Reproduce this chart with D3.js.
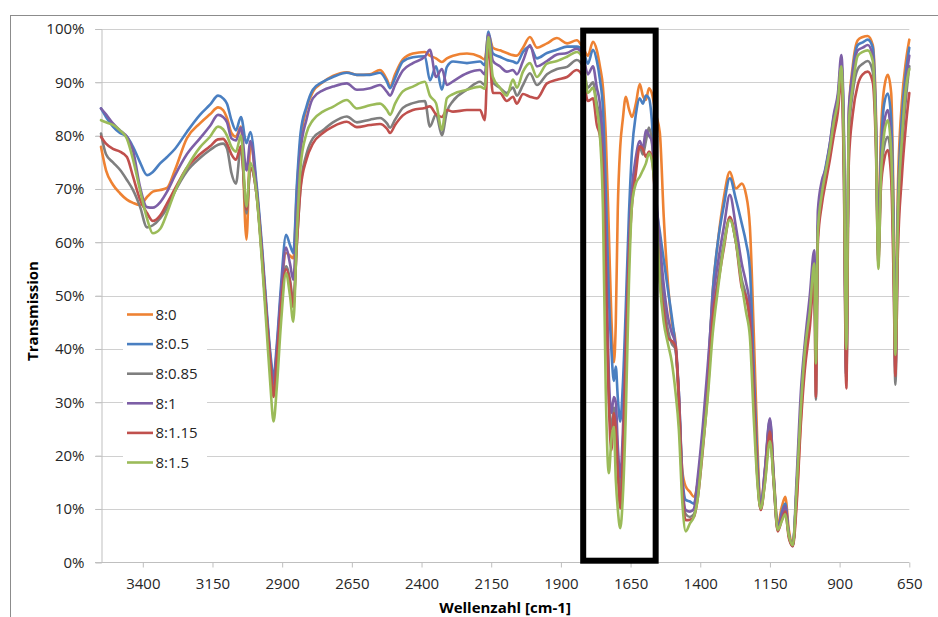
<!DOCTYPE html>
<html>
<head>
<meta charset="utf-8">
<script src="https://cdn.jsdelivr.net/npm/d3@7"></script>
<style>
  html, body { margin: 0; padding: 0; background: #fff; }
  svg { display: block; }
</style>
</head>
<body>
<svg id="chart" width="938" height="617"></svg>
<script>
// ---------------- DATA ----------------
const wavenumbers = [3550,3532,3507,3482,3457,3435,3410,3385,3364,3338,3313,3285,3242,3195,3159,3130,3112,3098,3082,3066,
3048,3028,3014,2992,2972,2955,2942,2931,2919,2904,2886,2872,2860,2847,2834,2813,2790,2754,2718,2668,
2632,2585,2549,2524,2513,2495,2467,2431,2388,2370,2348,2327,2309,2287,2237,2190,2173,2160,2144,2119,
2094,2072,2058,2036,2011,1986,1950,1914,1878,1843,1821,1803,1785,1771,1760,1749,1739,1728,1719,1710,
1703,1696,1687,1678,1667,1656,1645,1631,1617,1606,1595,1584,1574,1559,1545,1531,1516,1502,1489,1477,
1464,1452,1437,1423,1409,1391,1373,1355,1337,1315,1294,1272,1251,1236,1222,1208,1195,1183,1168,1150,
1136,1122,1107,1095,1082,1068,1054,1039,1025,1007,991,985,978,964,949,935,921,906,894,885,
876,867,853,835,817,799,781,770,761,752,740,727,715,706,700,691,677,662,650];

const s8_0 = [77.9,73.5,70.8,69.2,68,67.4,67,68.5,69.5,69.8,70.2,73.5,79.5,82.3,84,85.3,84.8,83.3,80.5,79.8,
81.7,60.5,78.6,70,58,46,38,32.5,39,50,58,57.5,57,70,79,85,88.2,90,91.2,91.9,
91.4,91.5,92.3,90.5,89.2,91.5,94.3,95.4,95.7,95,94.5,93.8,94.5,95,95.4,94.8,94.3,99,96.5,96,
95.5,95.1,95,96.5,98.5,96.5,97.3,98.3,97.3,97.9,96.5,95,97.6,96,93,89,80,62,46,37.5,
45,66,78,83,87.3,85,83.5,86,89.7,87.5,86.7,88.9,88,84,80.5,64.8,52.3,45,41.4,30,
17,14.2,13.2,12.3,15,23.5,33.6,51,60,68.5,73.2,70.1,71,69,63,43,22,10.4,17.3,26,
16,7,10.5,12.3,6,3.5,12,27,38,46,55,42,62,69,74,78,83,87,93,80,
36,84,93,97.9,98.5,98.7,97,85,60,80,89,91.4,88,65,40,70,86,94,98];

const s8_05 = [85.1,83.5,81.7,80.5,79.8,77.9,75,72.6,73.2,74.8,76,77.5,80.7,83.9,85.8,87.5,87,86,82.9,81,
83.5,78.6,80.7,71,59,47,39,34.8,41,52,61.4,59.5,58,71,80.5,85.4,88.6,90.1,91,91.8,
91.4,91.4,91.8,90.1,88.9,90.8,93.9,94.7,94.9,90.4,93,88.6,92.9,93.9,93.6,93.9,93.2,99.5,95.4,94.8,
94.2,93.9,93.6,95.7,96.7,94.5,95.5,96.1,96.7,96.7,96,93.5,96.1,94,90.5,85,70,50,40,34,
36.7,31,26.4,33,48,65,77,84,87,86,87.5,87,83,67.5,62,56.7,51.1,46,40.4,32,
16,11.7,11.4,11,15,24,35,51,60,67,72,68,63.5,60,55,36,19,10.2,17,26.7,
15.5,6.5,9.5,11,5.2,3.2,14,29,39.8,47,56,40,63,70,74.5,78.5,83.5,87,93.5,80,
35,83,92,97,97.5,98,96.5,83,58,76,86,87.9,83,62,38,66,83,92,96.5];

const s8_085 = [80.4,76.5,75,73.6,71.7,69.8,66.7,62.8,63.2,64.5,66.4,69.5,73.3,75.8,77.3,78.3,78.5,77.6,73,71,
78,65.4,74,69,57,45,37,31.5,38,48,55.5,53,49,60,70.5,76.5,79.5,81,82.5,83.6,
82.5,83,83.3,82.3,81.5,83,85.2,86.1,86.5,81.7,84,80.1,84.5,86.5,88.6,90.1,89.5,98,90,89,
88,89,87.5,89.5,91.7,89.5,91.5,92.5,92.9,94.2,93,89,90,86,83,76,56,31,25,29,
27,20,13,21,40,58,69,75,78,76.5,79,81.5,79,68,56,49,43.5,41,40,31,
14,9,8.5,9,13,22,33,46,53,60,64.5,60,53,50,45,31,16,10,15.5,25,
14.5,6,8.5,10,5,3.1,14,29,39,47,56,30.5,62,69,73,77,82,86,92.5,75,
34,80,88,92.5,93.5,94,92,80,57,72,78,79.8,75,55,33.3,60,77,87,93];

const s8_1 = [85.1,84,82.3,81,79.8,77.2,70.4,66.6,66.5,67.5,69.5,72.5,76.5,79.5,81.8,83.9,83.5,82.5,79.5,79.1,
81.5,73.5,79,70,58,46,38,33.5,40,50.5,59,56,53,66,77,83,87,88.5,89.2,89.8,
88.6,88.9,89.5,88.2,87.5,89.5,92.2,93.6,94.8,96.1,91,92.5,89.5,90.2,91.7,92.3,91.5,99,94,93,
92,92.3,91.5,94,97,93,94,95.2,95.5,96.3,95,91.5,93,89,86,78,60,35,28,31,
30,22,16,24,42,60,70,76,79,77.5,81,80,79,69,60,52,46,43,41,32,
15,9.8,9.5,10,16,25.5,37,49,56,63,68.9,62.9,56,52.5,48,33,17,10.5,17.5,27,
15.5,6.2,9,10.5,5,3,16,32,41,50,58.5,39,66,71.5,74,78.5,84,88,95.1,82,
35,85,91.5,96,96.5,97,95,82,58,74,82.5,84.8,79,58,36,64,80,90,95];

const s8_115 = [79.8,78.5,77.5,77,76,72.3,68,65.5,64,65,67.3,70,74,76.5,78,79.3,79.4,78.5,76.5,75.5,
78,66.1,74,69,57,45,37,31,38,48,55,52.5,47.9,60,70,75.5,78.5,80.5,81.7,82.6,
81.6,82,82.2,81.3,80.5,82,83.8,84.8,85.2,85.5,84,83.5,84.8,84.5,84.8,84.8,82.9,97.5,88,88,
86.5,87.3,86,87.8,87.3,87,89.8,90.5,91,92.3,91,86.5,87,82,80,73,55,30,21,28,
25,17,10.1,19,39,57,67,73,78,77.5,76,77,76,66,53,47,42,41.5,40.5,31,
13,7.9,8,8.5,12,21,32,46,52,59,64.8,60,51.5,49.8,45,31,16,9.8,15,24.5,
14.5,5.8,8,9.5,4.5,3,11,26,36,44,53,31,60,67,71.5,75.5,80,84.5,91,73,
32.6,75,84,89.5,91.5,92,90,78,56,70,75.5,77.3,72,52,34.9,58,72,82,88];

const s8_15 = [82.9,82.5,82,81,79.4,75.5,69.8,64.5,61.7,62.5,65.5,69.5,74,77.8,79.8,81.7,81.2,80,77.9,77,
80,66.7,74.9,69,56,43,33,26.4,33,45,54.2,50,45.1,62,74.2,80.4,82.9,84.5,85.4,86.7,
85.1,85.7,86,84.8,83.9,86,88.3,89.2,90.1,87.5,86.1,81.1,87,87.8,88.6,89.2,88.8,98.5,91,89,
87.5,90.5,89,92,93.6,91,93.5,94,94.8,95.7,94.5,88,89,85,80,66,32,16.7,23,25.4,
15.5,10,6.4,12,28,52,67,71,72.3,73.5,74.8,76.7,75.4,67,52.3,45,41,37.5,32,25,
11,5.8,7.3,8.5,12,21.5,31,43,51,59.5,64.2,60,52,47,42.3,27,15,10.1,14.8,22.7,
14.8,6.1,7.8,9,5,3.2,14,29,39.5,47,56,37.3,62,69,73.5,77.5,82.5,86.5,93,78,
40,82,89.2,95,95.7,96,94,80,55,72,80.5,82.9,77,58,38.9,64,79,89,92.5];

const seriesNames = ["8:0", "8:0.5", "8:0.85", "8:1", "8:1.15", "8:1.5"];
const seriesValues = [s8_0, s8_05, s8_085, s8_1, s8_115, s8_15];
const seriesColors = ["#EE8233", "#4A7FC1", "#7F7F7F", "#7D5FA6", "#C0504D", "#9BBB59"];

const xTicks = [3400, 3150, 2900, 2650, 2400, 2150, 1900, 1650, 1400, 1150, 900, 650];
const yTicks = [0, 10, 20, 30, 40, 50, 60, 70, 80, 90, 100];
const xDomain = [3550, 650];
const yDomain = [0, 100];
const highlightX = [1820, 1560];
const highlightY = [99.7, 0.3];
const xTitle = "Wellenzahl [cm-1]";
const yTitle = "Transmission";

// ---------------- CHART ----------------
(function () {
const svg = d3.select("#chart");
const FONT = "'Open Sans', 'Liberation Sans', sans-serif";
const pLeft = 101, pRight = 909.3, pTop = 29, pBottom = 562.3;

const x = d3.scaleLinear().domain(xDomain).range([pLeft, pRight]);
const y = d3.scaleLinear().domain(yDomain).range([pBottom, pTop]);

svg.append("rect").attr("x", 0).attr("y", 0).attr("width", 938).attr("height", 617).attr("fill", "#fff");
// chart-area border
svg.append("rect").attr("x", 10.5).attr("y", 15.5).attr("width", 960).attr("height", 640)
  .attr("fill", "none").attr("stroke", "#8c8c8c").attr("stroke-width", 1);

// gridlines
svg.append("g").selectAll("line").data(yTicks.filter(d => d > 0)).join("line")
  .attr("x1", pLeft - 6).attr("x2", pRight)
  .attr("y1", d => Math.round(y(d)) + 0.5).attr("y2", d => Math.round(y(d)) + 0.5)
  .attr("stroke", "#d0d0d0").attr("stroke-width", 1);

// y axis
const yAxis = d3.axisLeft(y).tickValues(yTicks).tickFormat(d => d + "%").tickSize(6).tickPadding(11);
const gy = svg.append("g").attr("transform", `translate(${pLeft + 0.5},0)`).call(yAxis);
gy.select(".domain").attr("stroke", "#bfbfbf");
gy.selectAll(".tick line").attr("stroke", "#bfbfbf");
gy.selectAll(".tick text").attr("font-family", FONT).attr("font-size", 15).attr("fill", "#262626");

// x axis
const xAxis = d3.axisBottom(x).tickValues(xTicks).tickFormat(d3.format("d")).tickSize(5).tickPadding(11);
const gx = svg.append("g").attr("transform", `translate(0,${Math.round(pBottom) + 0.5})`).call(xAxis);
gx.select(".domain").attr("stroke", "#bfbfbf").attr("d", `M${pLeft - 6},0H${pRight}`);
gx.selectAll(".tick line").attr("stroke", "#bfbfbf");
gx.selectAll(".tick text").attr("font-family", FONT).attr("font-size", 15).attr("fill", "#262626");

// series lines
const line = d3.line()
  .x((d, i) => x(wavenumbers[i]))
  .y(d => y(d))
  .curve(d3.curveMonotoneX);

svg.append("g").selectAll("path").data(seriesValues).join("path")
  .attr("d", d => line(d))
  .attr("fill", "none")
  .attr("stroke", (d, i) => seriesColors[i])
  .attr("stroke-width", 2.6)
  .attr("stroke-linejoin", "round")
  .attr("stroke-linecap", "round");

// legend
const legendTop = 314.5, legendStep = 29.6;
svg.append("rect").attr("x", 123).attr("y", 299).attr("width", 84).attr("height", 178).attr("fill", "#fff");
const lg = svg.append("g").selectAll("g").data(seriesNames).join("g")
  .attr("transform", (d, i) => `translate(0,${legendTop + i * legendStep})`);
lg.append("line").attr("x1", 127).attr("x2", 153).attr("y1", 0).attr("y2", 0)
  .attr("stroke", (d, i) => seriesColors[i]).attr("stroke-width", 2.6);
lg.append("text").attr("x", 155.5).attr("y", 0).attr("dy", "0.35em")
  .attr("font-family", FONT).attr("font-size", 15).attr("fill", "#262626").text(d => d);

// axis titles
svg.append("text").attr("x", 505).attr("y", 613).attr("text-anchor", "middle")
  .attr("font-family", FONT).attr("font-size", 15).attr("font-weight", "bold").attr("fill", "#000").text(xTitle);
svg.append("text").attr("transform", "translate(38,311) rotate(-90)").attr("text-anchor", "middle")
  .attr("font-family", FONT).attr("font-size", 15).attr("font-weight", "bold").attr("fill", "#000").text(yTitle);

// highlight box
svg.append("rect")
  .attr("x", x(highlightX[0])).attr("y", y(highlightY[0]))
  .attr("width", x(highlightX[1]) - x(highlightX[0]))
  .attr("height", y(highlightY[1]) - y(highlightY[0]))
  .attr("fill", "none").attr("stroke", "#000").attr("stroke-width", 6);
})();
</script>
</body>
</html>
